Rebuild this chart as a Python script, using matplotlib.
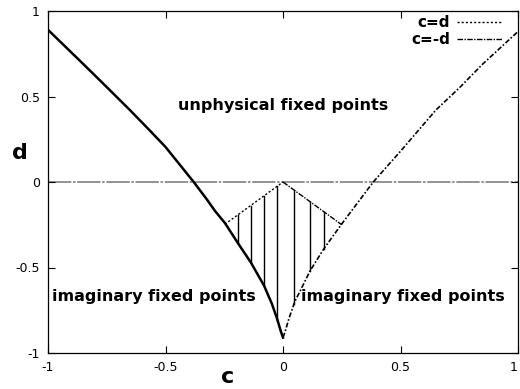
import numpy as np
import matplotlib
matplotlib.use("Agg")
import matplotlib.pyplot as plt

# boundary curve, left branch (solid) and right branch (dash-dot)
c_left = [-1.0, -0.85, -0.75, -0.651, -0.566, -0.5, -0.38, -0.325, -0.289, -0.247,
          -0.193, -0.137, -0.081, -0.048, -0.025, -0.01, 0.0]
d_left = [0.89, 0.69, 0.555, 0.42, 0.30, 0.205, 0.0, -0.10, -0.17, -0.24,
          -0.355, -0.47, -0.605, -0.71, -0.80, -0.87, -0.91]
c_right = [0.0, 0.01, 0.025, 0.05, 0.072, 0.115, 0.174, 0.25, 0.384,
           0.5, 0.65, 0.75, 0.85, 1.0]
d_right = [-0.91, -0.87, -0.80, -0.70, -0.64, -0.52, -0.39, -0.245, 0.0,
           0.18, 0.42, 0.55, 0.69, 0.88]

# c=d and c=-d segments
c_eq_d = [-0.247, 0.0]
c_eq_md = [0.0, 0.25]

# vertical hatch positions
hatch_c = [-0.193, -0.138, -0.081, -0.024, 0.047, 0.115, 0.174]

ticks = [-1, -0.5, 0, 0.5, 1]
tick_labels = ["-1", "-0.5", "0", "0.5", "1"]

fig = plt.figure(figsize=(5.2, 3.89), dpi=100)
ax = fig.add_axes([48/520, 36/389, 470/520, 342/389])

# zero axis
ax.axhline(0, color="0.5", lw=1.2, dashes=(14, 1, 1.5, 1), zorder=1)

ax.plot(c_left, d_left, color="black", lw=1.8)
ax.plot(c_right, d_right, color="black", lw=1.2, dashes=(3, 1.2, 1, 1.2))

l1, = ax.plot(c_eq_d, c_eq_d, color="black", lw=1.0, dashes=(1.5, 1.5), label="c=d")
l2, = ax.plot(c_eq_md, [-c for c in c_eq_md], color="black", lw=1.0,
              dashes=(4, 1, 1, 1), label="c=-d")

# hatching between the c=+-d lines and the curve
for c in hatch_c:
    top = -abs(c)
    if c < 0:
        bot = np.interp(c, c_left, d_left)
    else:
        bot = np.interp(c, c_right, d_right)
    ax.plot([c, c], [bot, top], color="black", lw=1.0)

txt = dict(fontsize=11.5, fontweight="bold", ha="center", va="center")
ax.text(0.0, 0.45, "unphysical fixed points", **txt)
ax.text(-0.55, -0.67, "imaginary fixed points", **txt)
ax.text(0.51, -0.67, "imaginary fixed points", **txt)

leg = ax.legend(handles=[l1, l2], loc="upper right", frameon=False,
                markerfirst=False, handlelength=2.9, handletextpad=0.5,
                labelspacing=0.15, borderaxespad=0.2,
                prop={"weight": "bold", "size": 11},
                bbox_to_anchor=(0.985, 1.015))

ax.set_xlim(-1, 1)
ax.set_ylim(-1, 1)
ax.set_xticks(ticks)
ax.set_yticks(ticks)
ax.set_xticklabels(tick_labels)
ax.set_yticklabels(tick_labels)
ax.tick_params(direction="in", top=True, right=True, length=5, width=0.8,
               labelsize=9, pad=6)
ax.get_xticklabels()[-1].set_horizontalalignment("right")
for s in ax.spines.values():
    s.set_linewidth(0.9)

ax.text(-0.234, -1.14, "c", fontsize=16, fontweight="bold", ha="center",
        va="center", transform=ax.transData, clip_on=False)
ax.text(-1.12, 0.17, "d", fontsize=16, fontweight="bold", ha="center",
        va="center", transform=ax.transData, clip_on=False)

fig.savefig("out.png", dpi=100)
